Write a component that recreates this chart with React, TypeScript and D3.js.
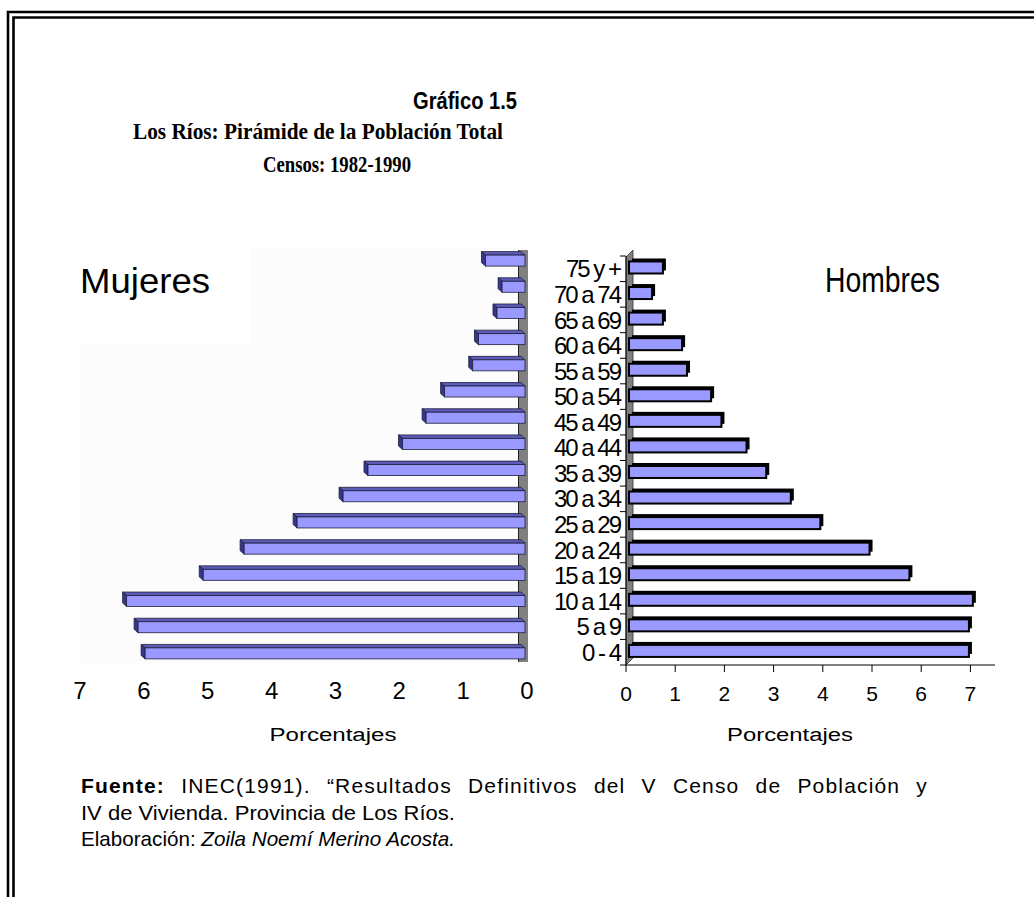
import React, { useEffect, useRef, useState } from "react";
import * as d3 from "d3";

const categories = ["0 - 4", "5 a 9", "10 a 14", "15 a 19", "20 a 24", "25 a 29", "30 a 34", "35 a 39", "40 a 44", "45 a 49", "50 a 54", "55 a 59", "60 a 64", "65 a 69", "70 a 74", "75 y +"];
const mujeres = [5.98, 6.09, 6.27, 5.07, 4.43, 3.6, 2.88, 2.49, 1.95, 1.58, 1.29, 0.85, 0.76, 0.47, 0.39, 0.65];
const hombres = [6.97, 6.97, 7.05, 5.76, 4.95, 3.95, 3.35, 2.85, 2.45, 1.94, 1.73, 1.24, 1.14, 0.75, 0.53, 0.75];
const tickValues = [0, 1, 2, 3, 4, 5, 6, 7];
const titleLines = ["Gráfico 1.5", "Los Ríos: Pirámide de la Población Total", "Censos: 1982-1990"];
const footBold = "Fuente:";
const footRest = " INEC(1991). “Resultados Definitivos del V Censo de Población y";

const W = 1034;
const H = 897;
const ARIAL = "'Liberation Sans', Arial, sans-serif";
const TIMES = "'Liberation Serif', 'Times New Roman', serif";
const LAV = "#9999ff";
const FOOT_W = 847;

export default function App() {
  const order = [...categories].reverse();
  const yL = d3.scaleBand<string>().domain(order).range([247, 666]);
  const yR = d3.scaleBand<string>().domain(order).range([256, 665]);
  const xL = d3.scaleLinear().domain([0, 7]).range([527, 80]);
  const xR = d3.scaleLinear().domain([0, 7]).range([626, 970.4]);

  const footRef = useRef<SVGTextElement>(null);
  const [sp, setSp] = useState({ ws: 0, ls: 0 });
  useEffect(() => {
    if (footRef.current) {
      const len = footRef.current.getComputedTextLength();
      const extra = Math.max(0, FOOT_W - len);
      const nChars = (footBold + footRest).length;
      setSp({ ws: (extra * 0.5) / 9, ls: (extra * 0.5) / nChars });
    }
  }, []);

  const wallTopL = 250;
  const wallBotL = 662;

  return (
    <div style={{ position: "absolute", left: 0, top: 0, width: W, height: H, background: "#fff" }}>
      <svg width={W} height={H} style={{ display: "block" }}>
        <rect x={0} y={0} width={W} height={H} fill="#fff" />
        {/* double border */}
        <path d={`M8,${H + 5} V12 H${W + 5}`} fill="none" stroke="#000" strokeWidth={2.6} />
        <path d={`M13.5,${H + 5} V17.5 H${W + 5}`} fill="none" stroke="#000" strokeWidth={2.6} />

        {/* titles */}
        <text x={465} y={109} textAnchor="middle" fontFamily={ARIAL} fontWeight="bold" fontSize={23.5} textLength={104} lengthAdjust="spacingAndGlyphs">{titleLines[0]}</text>
        <text x={318} y={139} textAnchor="middle" fontFamily={TIMES} fontWeight="bold" fontSize={24} textLength={370} lengthAdjust="spacingAndGlyphs">{titleLines[1]}</text>
        <text x={337} y={172} textAnchor="middle" fontFamily={TIMES} fontWeight="bold" fontSize={24} textLength={148} lengthAdjust="spacingAndGlyphs">{titleLines[2]}</text>

        {/* LEFT: Mujeres */}
        <rect x={80} y={345} width={447} height={320} fill="#fcfcfc" />
        <rect x={250} y={247} width={277} height={100} fill="#fcfcfc" />
        <rect x={518} y={wallTopL} width={10} height={wallBotL - wallTopL} fill="#808080" />
        <line x1={518.5} x2={518.5} y1={wallTopL} y2={wallBotL} stroke="#222" strokeWidth={1} />
        {categories.map((c, i) => {
          const v = mujeres[i];
          const cy = (yL(c) as number) + yL.bandwidth() / 2;
          const x1 = xL(v);
          const x2 = xL(0) - 2;
          const t = cy - 5;
          const b = cy + 6;
          const dx = -4;
          const dy = -3.5;
          return (
            <g key={c}>
              <polygon points={`${x1},${t} ${x2},${t} ${x2 + dx},${t + dy} ${x1 + dx},${t + dy}`} fill="#5c5cb8" stroke="#1e1e3c" strokeWidth={0.8} />
              <polygon points={`${x1},${t} ${x1},${b} ${x1 + dx},${b + dy} ${x1 + dx},${t + dy}`} fill="#36368f" stroke="#1e1e3c" strokeWidth={0.8} />
              <rect x={x1} y={t} width={x2 - x1} height={b - t} fill={LAV} stroke="#1e1e3c" strokeWidth={0.8} />
            </g>
          );
        })}
        {tickValues.map((t) => (
          <text key={t} x={xL(t)} y={699} textAnchor="middle" fontFamily={ARIAL} fontSize={24}>{t}</text>
        ))}
        <text x={333} y={741} textAnchor="middle" fontFamily={ARIAL} fontSize={18} textLength={127} lengthAdjust="spacingAndGlyphs">Porcentajes</text>
        <text x={80} y={293} fontFamily={ARIAL} fontSize={35} textLength={130} lengthAdjust="spacingAndGlyphs">Mujeres</text>

        {/* RIGHT: Hombres */}
        <polygon points={`626,${yR.range()[0] + 1} 633,${yR.range()[0] - 6} 633,${yR.range()[1] - 7} 626,${yR.range()[1]}`} fill="#808080" stroke="#333" strokeWidth={0.8} />
        {categories.map((c, i) => {
          const v = hombres[i];
          const cy = (yR(c) as number) + yR.bandwidth() / 2;
          const x1 = xR(0) + 3;
          const x2 = xR(v);
          const t = cy - 7.3;
          const b = cy + 4.7;
          return (
            <g key={c}>
              <rect x={x1 + 3} y={t - 3} width={x2 - x1} height={b - t} fill="#000" />
              <rect x={x1} y={t} width={x2 - x1} height={b - t} fill={LAV} stroke="#000" strokeWidth={2} />
            </g>
          );
        })}
        {/* y axis */}
        <line x1={626} x2={626} y1={yR.range()[0]} y2={yR.range()[1]} stroke="#000" strokeWidth={1} />
        {[...order.map((c) => yR(c) as number), yR.range()[1]].map((y, i) => (
          <line key={i} x1={620} x2={626} y1={y} y2={y} stroke="#000" strokeWidth={1} />
        ))}
        {categories.map((c) => (
          <text key={c} x={620} y={(yR(c) as number) + yR.bandwidth() / 2} dy="0.36em" textAnchor="end" fontFamily={ARIAL} fontSize={24} letterSpacing={-2}>{c}</text>
        ))}
        {/* x axis */}
        <line x1={626} x2={995} y1={665} y2={665} stroke="#000" strokeWidth={1} />
        {tickValues.map((t) => (
          <g key={t}>
            <line x1={xR(t)} x2={xR(t)} y1={665} y2={672} stroke="#000" strokeWidth={1} />
            <text x={xR(t)} y={701} textAnchor="middle" fontFamily={ARIAL} fontSize={21}>{t}</text>
          </g>
        ))}
        <text x={790} y={741} textAnchor="middle" fontFamily={ARIAL} fontSize={18} textLength={126} lengthAdjust="spacingAndGlyphs">Porcentajes</text>
        <text x={825} y={292} fontFamily={ARIAL} fontSize={35} textLength={115} lengthAdjust="spacingAndGlyphs">Hombres</text>

        {/* footer */}
        <text ref={footRef} x={81} y={793} fontFamily={ARIAL} fontSize={21} wordSpacing={sp.ws} letterSpacing={sp.ls}>
          <tspan fontWeight="bold">{footBold}</tspan>
          <tspan>{footRest}</tspan>
        </text>
        <text x={81} y={820} fontFamily={ARIAL} fontSize={21} textLength={374} lengthAdjust="spacingAndGlyphs">IV de Vivienda. Provincia de Los Ríos.</text>
        <text x={81} y={846} fontFamily={ARIAL} fontSize={21} textLength={374} lengthAdjust="spacingAndGlyphs">
          <tspan>Elaboración: </tspan>
          <tspan fontStyle="italic">Zoila Noemí Merino Acosta.</tspan>
        </text>
      </svg>
    </div>
  );
}
